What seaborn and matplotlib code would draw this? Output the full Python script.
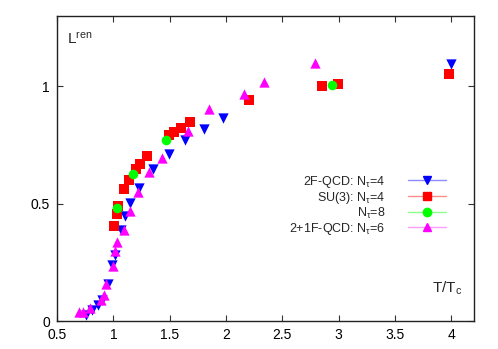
import matplotlib
matplotlib.use('Agg')
import matplotlib.pyplot as plt
import seaborn as sns
import pandas as pd
from matplotlib.lines import Line2D

# 2F-QCD, N_tau=4
t_2f = [0.756, 0.807, 0.86, 0.895, 0.954, 0.989, 1.013, 1.066, 1.101, 1.151,
        1.225, 1.355, 1.49, 1.638, 1.80, 1.975, 3.998]
l_2f = [0.025, 0.047, 0.068, 0.089, 0.157, 0.237, 0.28, 0.39, 0.449, 0.501,
        0.569, 0.647, 0.712, 0.771, 0.819, 0.865, 1.096]

# SU(3), N_tau=4
t_su3_4 = [1.007, 1.028, 1.042, 1.095, 1.139, 1.198, 1.24, 1.298, 1.49, 1.537,
           1.596, 1.676, 2.206, 2.849, 2.993, 3.978]
l_su3_4 = [0.404, 0.456, 0.489, 0.562, 0.602, 0.647, 0.671, 0.703, 0.792, 0.805,
           0.823, 0.849, 0.941, 1.003, 1.01, 1.052]

# SU(3), N_tau=8
t_su3_8 = [1.028, 1.175, 1.47, 2.943]
l_su3_8 = [0.48, 0.628, 0.771, 1.007]

# 2+1F-QCD, N_tau=6
t_21f = [0.697, 0.733, 0.792, 0.886, 0.916, 0.939, 0.998, 1.013, 1.033, 1.095,
         1.151, 1.219, 1.316, 1.434, 1.661, 1.853, 2.156, 2.333, 2.787]
l_21f = [0.04, 0.04, 0.056, 0.089, 0.11, 0.157, 0.234, 0.297, 0.336, 0.39,
         0.47, 0.548, 0.636, 0.696, 0.812, 0.904, 0.969, 1.021, 1.099]

labels = ['2F-QCD: N$_\\tau$=4', 'SU(3): N$_\\tau$=4', 'N$_\\tau$=8', '2+1F-QCD: N$_\\tau$=6']
colors = ['#0000ff', '#ff0000', '#00ff00', '#ff00ff']
light = ['#8c8cff', '#ff8c8c', '#8cff8c', '#ff9cff']
markers = ['v', 's', 'o', '^']
sizes = [55, 55, 48, 55]

df = pd.concat([
    pd.DataFrame({'T': t, 'L': l, 'set': lab})
    for t, l, lab in zip([t_2f, t_su3_4, t_su3_8, t_21f],
                         [l_2f, l_su3_4, l_su3_8, l_21f], labels)
])

sns.set_style('ticks')
plt.rcParams['font.family'] = ['Liberation Sans', 'DejaVu Sans']
plt.rcParams['mathtext.fontset'] = 'custom'
plt.rcParams['mathtext.rm'] = 'Liberation Sans'
plt.rcParams['mathtext.it'] = 'Liberation Sans'

fig = plt.figure(figsize=(4.98, 3.49), dpi=100)
ax = fig.add_axes([0.1145, 0.0802, 0.8373, 0.8738])

for lab, c, m, s in zip(labels, colors, markers, sizes):
    sub = df[df['set'] == lab]
    sns.scatterplot(data=sub, x='T', y='L', ax=ax, color=c, marker=m, s=s,
                    linewidth=0, legend=False, zorder=3)

ax.set_xlim(0.5, 4.2)
ax.set_ylim(0, 1.3)
ax.set_xticks([0.5, 1, 1.5, 2, 2.5, 3, 3.5, 4])
ax.set_xticklabels(['0.5', '1', '1.5', '2', '2.5', '3', '3.5', '4'])
ax.set_yticks([0, 0.5, 1])
ax.set_yticklabels(['0', '0.5', '1'])
ax.tick_params(direction='in', top=True, right=True, length=4, width=0.8,
               labelsize=10, colors='#333333', labelcolor='black', pad=5)
for sp in ax.spines.values():
    sp.set_linewidth(1.0)
    sp.set_color('#222222')
ax.set_xlabel('')
ax.set_ylabel('')

ax.text(0.025, 0.95, 'L$^{\\mathrm{ren}}$', transform=ax.transAxes,
        fontsize=11, va='top', ha='left')
ax.text(0.972, 0.08, 'T/T$_\\mathrm{c}$', transform=ax.transAxes,
        fontsize=11, va='bottom', ha='right')

handles = [Line2D([0], [0], color=lc, lw=1, marker=m,
                  markerfacecolor=c, markeredgecolor=c, markersize=6)
           for c, lc, m in zip(colors, light, markers)]
leg = ax.legend(handles, labels, loc='upper right', bbox_to_anchor=(0.946, 0.5),
                frameon=False, markerfirst=False, fontsize=9, handlelength=3.1,
                labelspacing=0.0, handletextpad=1.8, borderaxespad=0)
for t in leg.get_texts():
    t.set_ha('right')
leg._legend_box.align = 'right'

fig.savefig('out.png', dpi=100)
